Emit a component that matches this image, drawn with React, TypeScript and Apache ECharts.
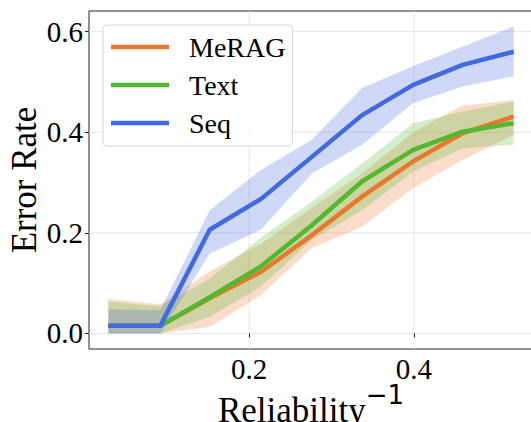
import React, { useEffect, useRef } from "react";
import * as echarts from "echarts";

const xValues = [0.029, 0.092, 0.152, 0.214, 0.276, 0.337, 0.399, 0.459, 0.521];

const meragMean = [0.015, 0.015, 0.07, 0.122, 0.195, 0.272, 0.342, 0.398, 0.431];
const meragLower = [0.0, 0.0, 0.013, 0.076, 0.17, 0.212, 0.289, 0.345, 0.395];
const meragUpper = [0.068, 0.058, 0.123, 0.178, 0.25, 0.318, 0.4, 0.453, 0.464];

const textMean = [0.015, 0.015, 0.072, 0.133, 0.215, 0.302, 0.365, 0.401, 0.418];
const textLower = [0.0, 0.0, 0.033, 0.093, 0.186, 0.245, 0.322, 0.368, 0.375];
const textUpper = [0.063, 0.054, 0.109, 0.19, 0.262, 0.338, 0.418, 0.441, 0.461];

const seqMean = [0.015, 0.015, 0.206, 0.267, 0.351, 0.434, 0.494, 0.534, 0.56];
const seqLower = [0.0, 0.0, 0.159, 0.206, 0.318, 0.375, 0.458, 0.491, 0.511];
const seqUpper = [0.048, 0.046, 0.245, 0.325, 0.385, 0.488, 0.531, 0.57, 0.61];

const xTicks = [0.2, 0.4];
const yTicks = [0.0, 0.2, 0.4, 0.6];

const X_MIN = 0.0055;
const X_MAX = 0.5445;
const Y_MIN = -0.031;
const Y_MAX = 0.641;

const SERIF = "'Liberation Serif', 'Times New Roman', serif";

const groups = [
  { name: "MeRAG", mean: meragMean, lower: meragLower, upper: meragUpper, color: "#E8782C", band: "rgba(232,120,44,0.25)" },
  { name: "Text", mean: textMean, lower: textLower, upper: textUpper, color: "#52B830", band: "rgba(82,184,48,0.25)" },
  { name: "Seq", mean: seqMean, lower: seqLower, upper: seqUpper, color: "#4169E1", band: "rgba(65,105,225,0.25)" },
];

export default function App() {
  const ref = useRef<HTMLDivElement>(null);
  useEffect(() => {
    if (!ref.current) return;
    const chart = echarts.init(ref.current, undefined, { renderer: "svg" });

    const gridSeries: any[] = [
      {
        type: "custom",
        name: "gridY",
        silent: true,
        z: 0,
        clip: true,
        data: yTicks.map((v) => [X_MIN, v]),
        renderItem: (params: any, api: any) => {
          const v = api.value(1);
          const a = api.coord([X_MIN, v]);
          const b = api.coord([X_MAX, v]);
          return {
            type: "line",
            shape: { x1: a[0], y1: a[1], x2: b[0], y2: b[1] },
            style: { stroke: "#e6e6e6", lineWidth: 1 },
          };
        },
      },
      {
        type: "custom",
        name: "gridX",
        silent: true,
        z: 0,
        clip: true,
        data: xTicks.map((v) => [v, Y_MIN]),
        renderItem: (params: any, api: any) => {
          const v = api.value(0);
          const a = api.coord([v, Y_MIN]);
          const b = api.coord([v, Y_MAX]);
          return {
            type: "line",
            shape: { x1: a[0], y1: a[1], x2: b[0], y2: b[1] },
            style: { stroke: "#e6e6e6", lineWidth: 1 },
          };
        },
      },
    ];

    const bandSeries = groups.map((g, gi) => ({
      type: "custom",
      name: g.name + " band",
      silent: true,
      z: 1 + gi * 0.01,
      clip: true,
      data: xValues.map((x, i) => [x, g.upper[i]]),
      renderItem: (params: any, api: any) => {
        if (params.dataIndex !== 0) return null;
        const pts: number[][] = [];
        for (let i = 0; i < xValues.length; i++) pts.push(api.coord([xValues[i], g.upper[i]]));
        for (let i = xValues.length - 1; i >= 0; i--) pts.push(api.coord([xValues[i], g.lower[i]]));
        return {
          type: "polygon",
          shape: { points: pts },
          style: { fill: g.band, stroke: null },
        };
      },
    }));

    const lineSeries = groups.map((g, gi) => ({
      type: "line",
      name: g.name,
      z: 3 + gi,
      symbol: "none",
      showSymbol: false,
      color: g.color,
      lineStyle: { color: g.color, width: 4.5, join: "round" },
      data: xValues.map((x, i) => [x, g.mean[i]]),
    }));

    chart.setOption({
      animation: false,
      backgroundColor: "#ffffff",
      grid: {
        left: 89,
        top: 11,
        width: 444,
        height: 338,
        outerBoundsMode: "none",
        containLabel: false,
        show: true,
        borderColor: "#222",
        borderWidth: 1,
        backgroundColor: "transparent",
      },
      legend: {
        data: groups.map((g) => g.name),
        orient: "vertical",
        left: 103,
        top: 25,
        icon: "rect",
        itemWidth: 58,
        itemHeight: 4.5,
        itemGap: 8,
        padding: [7, 7, 8, 8],
        backgroundColor: "rgba(255,255,255,0.85)",
        borderColor: "#d6d6d6",
        borderWidth: 1,
        borderRadius: 4,
        textStyle: {
          fontFamily: SERIF,
          fontSize: 28,
          color: "#000",
          lineHeight: 30,
          padding: [0, 0, 0, 15],
        },
      },
      xAxis: {
        type: "value",
        min: X_MIN,
        max: X_MAX,
        name: "{a|Reliability}{b|−1}",
        nameLocation: "middle",
        nameGap: 33,
        nameMoveOverlap: false,
        nameTextStyle: {
          rich: {
            a: { fontFamily: SERIF, fontSize: 35, color: "#000", lineHeight: 46, verticalAlign: "bottom" },
            b: { fontFamily: "'DejaVu Sans', sans-serif", fontSize: 26, color: "#000", lineHeight: 26, verticalAlign: "top" },
          },
        },
        axisLine: { show: false },
        splitLine: { show: false },
        axisTick: { show: true, length: 4, customValues: xTicks, lineStyle: { color: "#222", width: 1 } },
        axisLabel: {
          customValues: xTicks,
          margin: 5,
          fontFamily: SERIF,
          fontSize: 29,
          color: "#000",
          formatter: (v: number) => v.toFixed(1),
        },
      },
      yAxis: {
        type: "value",
        min: Y_MIN,
        max: Y_MAX,
        name: "Error Rate",
        nameLocation: "middle",
        nameGap: 47,
        nameMoveOverlap: false,
        nameTextStyle: { fontFamily: SERIF, fontSize: 35, color: "#000" },
        axisLine: { show: false },
        splitLine: { show: false },
        axisTick: { show: true, length: 4, customValues: yTicks, lineStyle: { color: "#222", width: 1 } },
        axisLabel: {
          customValues: yTicks,
          margin: 6,
          fontFamily: SERIF,
          fontSize: 29,
          color: "#000",
          formatter: (v: number) => v.toFixed(1),
        },
      },
      series: [...gridSeries, ...bandSeries, ...lineSeries],
    });

    return () => chart.dispose();
  }, []);

  return (
    <div
      ref={ref}
      style={{ position: "fixed", left: 0, top: 0, width: 531, height: 422 }}
    />
  );
}
